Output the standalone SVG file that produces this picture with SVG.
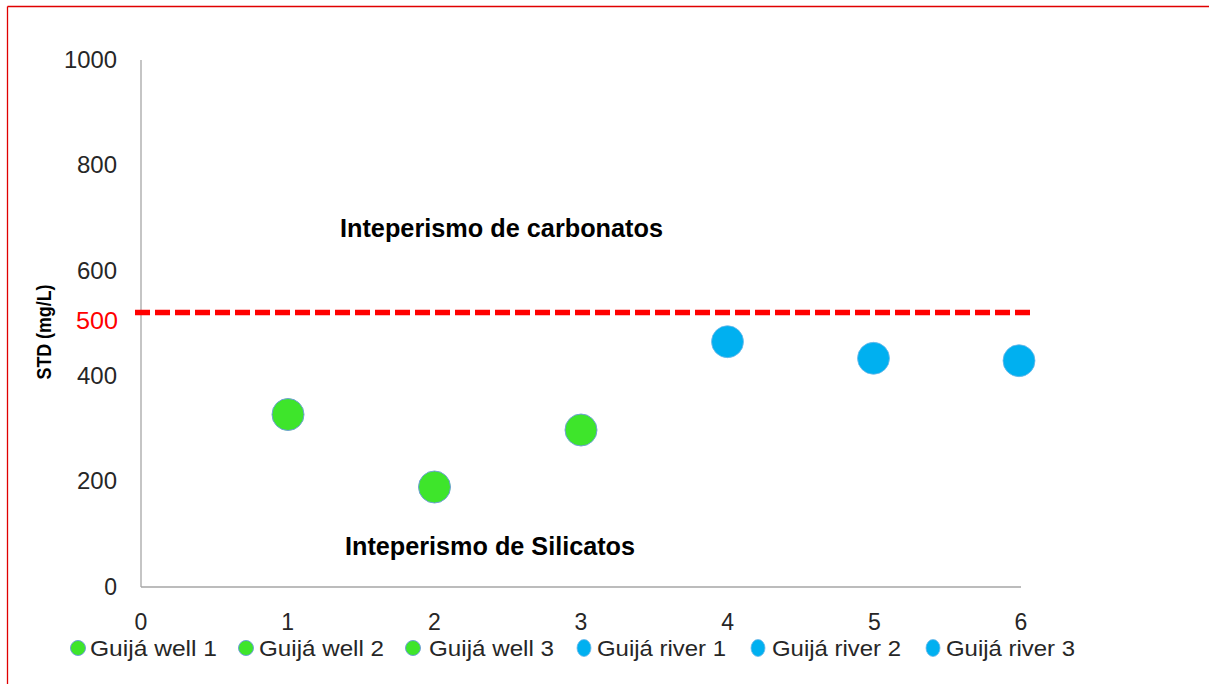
<svg xmlns="http://www.w3.org/2000/svg" width="1209" height="684" viewBox="0 0 1209 684">
<style>
.t{font-family:"Liberation Sans",Arial,sans-serif;fill:#262626}
.tick{font-size:23px}
.leg{font-size:22px}
.bold{font-weight:bold;font-size:25px;fill:#000}
.g{fill:#3EE52B;stroke:#6FA0D8;stroke-width:1}
.b{fill:#00B0F0;stroke:#6FB7E8;stroke-width:0.8}
.axis{stroke:#A6A6A6;stroke-width:1.3;fill:none}
</style>
<rect width="1209" height="684" fill="#fff"/>
<g id="frame">
<line x1="7.5" y1="6.5" x2="1209" y2="6.5" stroke="#E00000" stroke-width="1.3"/>
<line x1="7.5" y1="6.5" x2="7.5" y2="684" stroke="#E00000" stroke-width="1.3"/>
</g>
<g id="axes">
<line class="axis" x1="141" y1="60" x2="141" y2="587"/>
<line class="axis" x1="141" y1="587" x2="1021" y2="587"/>
</g>
<g id="y-ticks" class="t tick" text-anchor="end">
<text x="117" y="68" textLength="53" lengthAdjust="spacingAndGlyphs">1000</text>
<text x="117" y="173" textLength="40" lengthAdjust="spacingAndGlyphs">800</text>
<text x="117" y="279" textLength="40" lengthAdjust="spacingAndGlyphs">600</text>
<text x="117" y="384" textLength="40" lengthAdjust="spacingAndGlyphs">400</text>
<text x="117" y="489" textLength="40" lengthAdjust="spacingAndGlyphs">200</text>
<text x="117" y="595">0</text>
<text x="118" y="329" style="fill:#FF0000" textLength="42" lengthAdjust="spacingAndGlyphs">500</text>
</g>
<g id="x-ticks" class="t tick" text-anchor="middle">
<text x="141" y="630">0</text>
<text x="287.7" y="630">1</text>
<text x="434.3" y="630">2</text>
<text x="581" y="630">3</text>
<text x="727.7" y="630">4</text>
<text x="874.3" y="630">5</text>
<text x="1021" y="630">6</text>
</g>
<g id="y-label">
<text class="t" x="0" y="0" transform="translate(51,332) rotate(-90)" text-anchor="middle" style="font-weight:bold;font-size:19.5px;fill:#000" textLength="95" lengthAdjust="spacingAndGlyphs">STD (mg/L)</text>
</g>
<g id="threshold">
<line x1="135" y1="312.5" x2="1032" y2="312.5" stroke="#FF0000" stroke-width="5.5" stroke-dasharray="15 5"/>
</g>
<g id="annotations">
<text class="t bold" x="340" y="237" textLength="323" lengthAdjust="spacingAndGlyphs">Inteperismo de carbonatos</text>
<text class="t bold" x="345" y="555" textLength="290" lengthAdjust="spacingAndGlyphs">Inteperismo de Silicatos</text>
</g>
<g id="points">
<circle id="well1" class="g" cx="288" cy="414.5" r="16"/>
<circle id="well2" class="g" cx="434.5" cy="487" r="16"/>
<circle id="well3" class="g" cx="581" cy="430" r="16"/>
<circle id="river1" class="b" cx="727.5" cy="341.7" r="16"/>
<circle id="river2" class="b" cx="873.5" cy="358.3" r="16"/>
<circle id="river3" class="b" cx="1019" cy="360.7" r="16"/>
</g>
<g id="legend" class="t leg">
<circle class="g" cx="78" cy="648" r="7.5"/>
<text x="90" y="656" textLength="127" lengthAdjust="spacingAndGlyphs">Guijá well 1</text>
<circle class="g" cx="246" cy="648" r="7.5"/>
<text x="259" y="656" textLength="125" lengthAdjust="spacingAndGlyphs">Guijá well 2</text>
<circle class="g" cx="413" cy="648" r="7.5"/>
<text x="429" y="656" textLength="125" lengthAdjust="spacingAndGlyphs">Guijá well 3</text>
<ellipse class="b" cx="584" cy="648" rx="7" ry="8.5"/>
<text x="597" y="656" textLength="129" lengthAdjust="spacingAndGlyphs">Guijá river 1</text>
<ellipse class="b" cx="758" cy="648" rx="7" ry="8.5"/>
<text x="772" y="656" textLength="129" lengthAdjust="spacingAndGlyphs">Guijá river 2</text>
<ellipse class="b" cx="933" cy="648" rx="7" ry="8.5"/>
<text x="946" y="656" textLength="129" lengthAdjust="spacingAndGlyphs">Guijá river 3</text>
</g>
</svg>
